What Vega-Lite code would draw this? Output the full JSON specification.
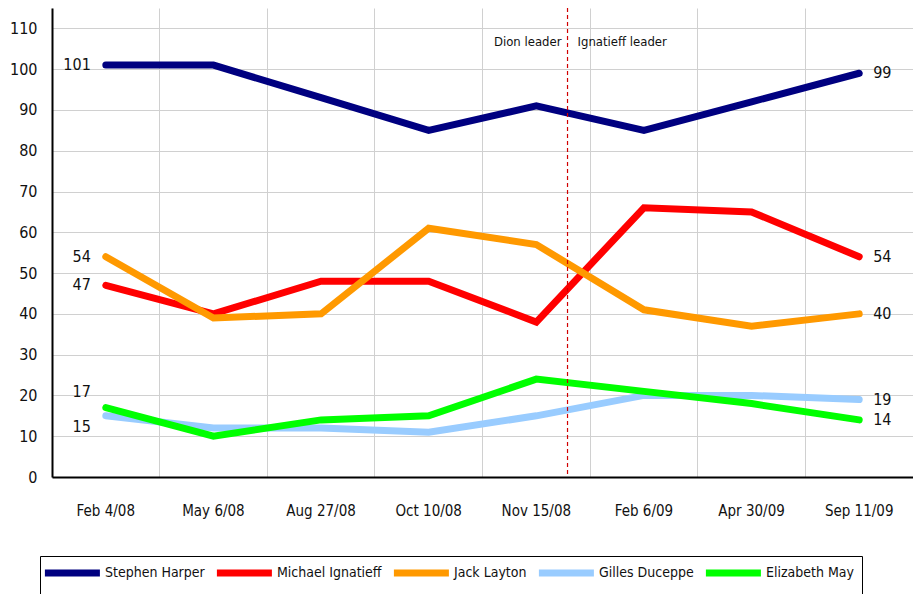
{
  "$schema": "https://vega.github.io/schema/vega-lite/v6.json",
  "width": 861,
  "height": 469,
  "autosize": "none",
  "padding": {"left": 52, "top": 8, "right": 0, "bottom": 117},
  "background": "white",
  "config": {
    "font": "DejaVu Sans Condensed",
    "view": {"stroke": null},
    "text": {"font": "DejaVu Sans Condensed"},
    "axis": {"labelFont": "DejaVu Sans Condensed", "labelColor": "#111", "gridColor": "#d0d0d0", "gridWidth": 1},
    "legend": {"labelFont": "DejaVu Sans Condensed"}
  },
  "data": {
    "values": [
      {"date": "Feb 4/08", "candidate": "Stephen Harper", "value": 101},
      {"date": "May 6/08", "candidate": "Stephen Harper", "value": 101},
      {"date": "Aug 27/08", "candidate": "Stephen Harper", "value": 93},
      {"date": "Oct 10/08", "candidate": "Stephen Harper", "value": 85},
      {"date": "Nov 15/08", "candidate": "Stephen Harper", "value": 91},
      {"date": "Feb 6/09", "candidate": "Stephen Harper", "value": 85},
      {"date": "Apr 30/09", "candidate": "Stephen Harper", "value": 92},
      {"date": "Sep 11/09", "candidate": "Stephen Harper", "value": 99},
      {"date": "Feb 4/08", "candidate": "Michael Ignatieff", "value": 47},
      {"date": "May 6/08", "candidate": "Michael Ignatieff", "value": 40},
      {"date": "Aug 27/08", "candidate": "Michael Ignatieff", "value": 48},
      {"date": "Oct 10/08", "candidate": "Michael Ignatieff", "value": 48},
      {"date": "Nov 15/08", "candidate": "Michael Ignatieff", "value": 38},
      {"date": "Feb 6/09", "candidate": "Michael Ignatieff", "value": 66},
      {"date": "Apr 30/09", "candidate": "Michael Ignatieff", "value": 65},
      {"date": "Sep 11/09", "candidate": "Michael Ignatieff", "value": 54},
      {"date": "Feb 4/08", "candidate": "Jack Layton", "value": 54},
      {"date": "May 6/08", "candidate": "Jack Layton", "value": 39},
      {"date": "Aug 27/08", "candidate": "Jack Layton", "value": 40},
      {"date": "Oct 10/08", "candidate": "Jack Layton", "value": 61},
      {"date": "Nov 15/08", "candidate": "Jack Layton", "value": 57},
      {"date": "Feb 6/09", "candidate": "Jack Layton", "value": 41},
      {"date": "Apr 30/09", "candidate": "Jack Layton", "value": 37},
      {"date": "Sep 11/09", "candidate": "Jack Layton", "value": 40},
      {"date": "Feb 4/08", "candidate": "Gilles Duceppe", "value": 15},
      {"date": "May 6/08", "candidate": "Gilles Duceppe", "value": 12},
      {"date": "Aug 27/08", "candidate": "Gilles Duceppe", "value": 12},
      {"date": "Oct 10/08", "candidate": "Gilles Duceppe", "value": 11},
      {"date": "Nov 15/08", "candidate": "Gilles Duceppe", "value": 15},
      {"date": "Feb 6/09", "candidate": "Gilles Duceppe", "value": 20},
      {"date": "Apr 30/09", "candidate": "Gilles Duceppe", "value": 20},
      {"date": "Sep 11/09", "candidate": "Gilles Duceppe", "value": 19},
      {"date": "Feb 4/08", "candidate": "Elizabeth May", "value": 17},
      {"date": "May 6/08", "candidate": "Elizabeth May", "value": 10},
      {"date": "Aug 27/08", "candidate": "Elizabeth May", "value": 14},
      {"date": "Oct 10/08", "candidate": "Elizabeth May", "value": 15},
      {"date": "Nov 15/08", "candidate": "Elizabeth May", "value": 24},
      {"date": "Feb 6/09", "candidate": "Elizabeth May", "value": 21},
      {"date": "Apr 30/09", "candidate": "Elizabeth May", "value": 18},
      {"date": "Sep 11/09", "candidate": "Elizabeth May", "value": 14}
    ]
  },
  "encoding": {
    "x": {
      "field": "date", "type": "ordinal", "bandPosition": 0.5,
      "sort": ["Feb 4/08", "May 6/08", "Aug 27/08", "Oct 10/08", "Nov 15/08", "Feb 6/09", "Apr 30/09", "Sep 11/09"],
      "scale": {"type": "band", "paddingInner": 0, "paddingOuter": 0},
      "axis": {"title": null, "grid": true, "bandPosition": 0, "ticks": false, "labelAngle": 0, "labelPadding": 26, "labelFontSize": 15, "domainColor": "black", "domainWidth": 2}
    }
  },
  "layer": [
    {
      "mark": {"type": "line", "strokeWidth": 7, "strokeCap": "round", "strokeJoin": "miter"},
      "encoding": {
        "y": {
          "field": "value", "type": "quantitative",
          "scale": {"domain": [0, 115], "nice": false},
          "axis": {"title": null, "values": [0, 10, 20, 30, 40, 50, 60, 70, 80, 90, 100, 110], "ticks": false, "labelPadding": 15, "labelFontSize": 16, "domainColor": "black", "domainWidth": 2}
        },
        "color": {
          "field": "candidate", "type": "nominal",
          "scale": {"domain": ["Stephen Harper", "Michael Ignatieff", "Jack Layton", "Gilles Duceppe", "Elizabeth May"], "range": ["#000080", "#ff0000", "#ff9900", "#99ccff", "#00ff00"]},
          "legend": {"title": null, "orient": "none", "legendX": -12, "legendY": 548, "direction": "horizontal", "columns": 5, "strokeColor": "black", "padding": 8, "symbolType": "M-2.2,0H7.8", "symbolSize": 121, "symbolStrokeWidth": 7, "labelFontSize": 14, "labelColor": "#111", "labelOffset": 39, "columnPadding": -3}
        }
      }
    },
    {
      "data": {"values": [{}]},
      "mark": {"type": "rule", "color": "#d00000", "strokeDash": [4, 3], "strokeWidth": 1.2},
      "encoding": {"x": {"datum": "Nov 15/08", "bandPosition": 0.79}}
    },
    {
      "transform": [{"filter": "datum.date == 'Feb 4/08' && datum.candidate != 'Elizabeth May' && datum.candidate != 'Gilles Duceppe'"}],
      "mark": {"type": "text", "align": "right", "dx": -15, "fontSize": 16, "color": "#111"},
      "encoding": {"y": {"field": "value", "type": "quantitative"}, "text": {"field": "value"}}
    },
    {
      "transform": [{"filter": "datum.date == 'Feb 4/08' && datum.candidate == 'Elizabeth May'"}],
      "mark": {"type": "text", "align": "right", "dx": -15, "dy": -16, "fontSize": 16, "color": "#111"},
      "encoding": {"y": {"field": "value", "type": "quantitative"}, "text": {"field": "value"}}
    },
    {
      "transform": [{"filter": "datum.date == 'Feb 4/08' && datum.candidate == 'Gilles Duceppe'"}],
      "mark": {"type": "text", "align": "right", "dx": -15, "dy": 11, "fontSize": 16, "color": "#111"},
      "encoding": {"y": {"field": "value", "type": "quantitative"}, "text": {"field": "value"}}
    },
    {
      "transform": [{"filter": "datum.date == 'Sep 11/09'"}],
      "mark": {"type": "text", "align": "left", "dx": 14, "fontSize": 16, "color": "#111"},
      "encoding": {"y": {"field": "value", "type": "quantitative"}, "text": {"field": "value"}}
    },
    {
      "data": {"values": [{}]},
      "mark": {"type": "text", "align": "right", "dx": -6, "fontSize": 13, "color": "#111"},
      "encoding": {"x": {"datum": "Nov 15/08", "bandPosition": 0.79}, "y": {"datum": 106.6}, "text": {"value": "Dion leader"}}
    },
    {
      "data": {"values": [{}]},
      "mark": {"type": "text", "align": "left", "dx": 10, "fontSize": 13, "color": "#111"},
      "encoding": {"x": {"datum": "Nov 15/08", "bandPosition": 0.79}, "y": {"datum": 106.6}, "text": {"value": "Ignatieff leader"}}
    }
  ]
}
